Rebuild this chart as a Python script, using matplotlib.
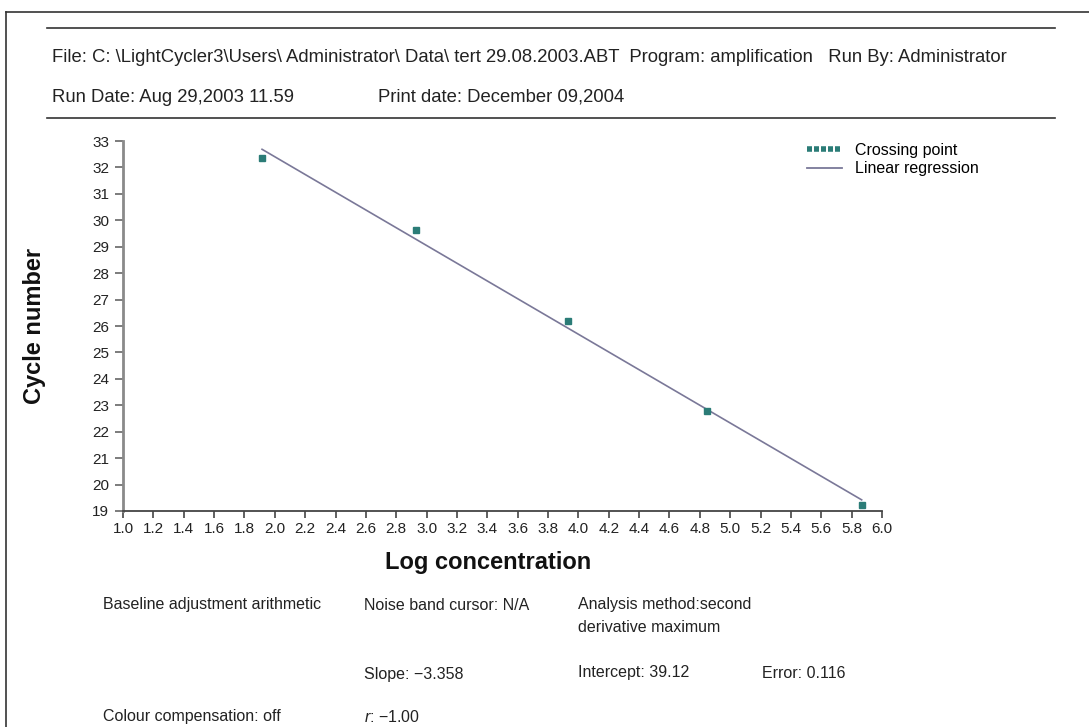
import matplotlib
matplotlib.use("Agg")
import matplotlib.pyplot as plt
from matplotlib.lines import Line2D
import numpy as np

plt.rcParams['font.family'] = ['Liberation Sans', 'DejaVu Sans']
plt.rcParams['mathtext.fontset'] = 'custom'
plt.rcParams['mathtext.it'] = 'Liberation Sans:italic'
plt.rcParams['mathtext.rm'] = 'Liberation Sans'

# ---- data ----
log_conc = [1.916, 2.93, 3.93, 4.85, 5.866]
crossing_point = [32.37, 29.63, 26.2, 22.77, 19.24]
slope = -3.358
intercept = 39.12
x_ticks = [1.0, 1.2, 1.4, 1.6, 1.8, 2.0, 2.2, 2.4, 2.6, 2.8, 3.0, 3.2, 3.4, 3.6, 3.8,
           4.0, 4.2, 4.4, 4.6, 4.8, 5.0, 5.2, 5.4, 5.6, 5.8, 6.0]
y_ticks = list(range(19, 34))

W, H = 1089, 727
fig = plt.figure(figsize=(W / 100, H / 100), dpi=100)

def fx(px):
    return px / W

def fy(py):
    return 1 - py / H

# outer frame
fig.add_artist(Line2D([fx(6), fx(6)], [fy(12), 0], color='#333333', lw=1.2))
fig.add_artist(Line2D([fx(6), 1], [fy(12), fy(12)], color='#333333', lw=1.2))
# header rules
fig.add_artist(Line2D([fx(47), fx(1055)], [fy(28), fy(28)], color='#333333', lw=1.2))
fig.add_artist(Line2D([fx(47), fx(1055)], [fy(118), fy(118)], color='#333333', lw=1.2))

hdr = dict(fontsize=13.3, color='#222222', va='center', ha='left')
fig.text(fx(52), fy(58),
         "File: C: \\LightCycler3\\Users\\ Administrator\\ Data\\ tert 29.08.2003.ABT  "
         "Program: amplification   Run By: Administrator", **hdr)
fig.text(fx(52), fy(97), "Run Date: Aug 29,2003 11.59", **hdr)
fig.text(fx(378), fy(97), "Print date: December 09,2004", **hdr)

# axes
ax = fig.add_axes([fx(123), fy(511), (882 - 123) / W, (511 - 141) / H])
ax.set_xlim(1.0, 6.0)
ax.set_ylim(19, 33)
for s in ['top', 'right']:
    ax.spines[s].set_visible(False)
ax.spines['left'].set_color('#8a8a8a')
ax.spines['left'].set_linewidth(2.0)
ax.spines['bottom'].set_color('#444444')
ax.spines['bottom'].set_linewidth(1.3)
ax.set_xticks(x_ticks)
ax.set_xticklabels([f"{v:.1f}" for v in x_ticks])
ax.set_yticks(y_ticks)
ax.set_yticklabels([str(v) for v in y_ticks])
ax.tick_params(axis='y', direction='out', length=6, width=1.2, color='#666666',
               labelsize=11, labelcolor='#222222', pad=4)
ax.tick_params(axis='x', direction='out', length=5, width=1.2, color='#444444',
               labelsize=11, labelcolor='#222222', pad=3)

xs = np.array([min(log_conc), max(log_conc)])
ax.plot(xs, intercept + slope * xs, color='#7a7898', lw=1.2, zorder=2,
        label='Linear regression', clip_on=False)
ax.plot(log_conc, crossing_point, linestyle='none', marker='s', markersize=4.3,
        color='#2b7c77', zorder=3, clip_on=False, label='Crossing point')

handles = [Line2D([], [], color='#2b7c77', lw=4, linestyle=(0, (0.9, 0.36))),
           Line2D([], [], color='#7a7898', lw=1.3)]
ax.legend(handles, ['Crossing point', 'Linear regression'], loc='upper left',
          bbox_to_anchor=(fx(799), fy(135)), bbox_transform=fig.transFigure,
          frameon=False, fontsize=11.5, handlelength=2.2, handletextpad=0.8,
          labelspacing=0.2, borderpad=0)

fig.text(fx(35), fy(326), "Cycle number", rotation=90, fontsize=17,
         fontweight='bold', ha='center', va='center', color='#111111')
fig.text(fx(488), fy(562), "Log concentration", fontsize=17,
         fontweight='bold', ha='center', va='center', color='#111111')

ft = dict(fontsize=11.5, color='#222222', va='center', ha='left')
fig.text(fx(103), fy(605), "Baseline adjustment arithmetic", **ft)
fig.text(fx(364), fy(605), "Noise band cursor: N/A", **ft)
fig.text(fx(578), fy(605), "Analysis method:second", **ft)
fig.text(fx(578), fy(627), "derivative maximum", **ft)
fig.text(fx(364), fy(675), "Slope: \u22123.358", **ft)
fig.text(fx(578), fy(673), "Intercept: 39.12", **ft)
fig.text(fx(762), fy(673), "Error: 0.116", **ft)
fig.text(fx(103), fy(717), "Colour compensation: off", **ft)
fig.text(fx(364), fy(717), "$r$: \u22121.00", **ft)

fig.savefig("out.png", dpi=100)
